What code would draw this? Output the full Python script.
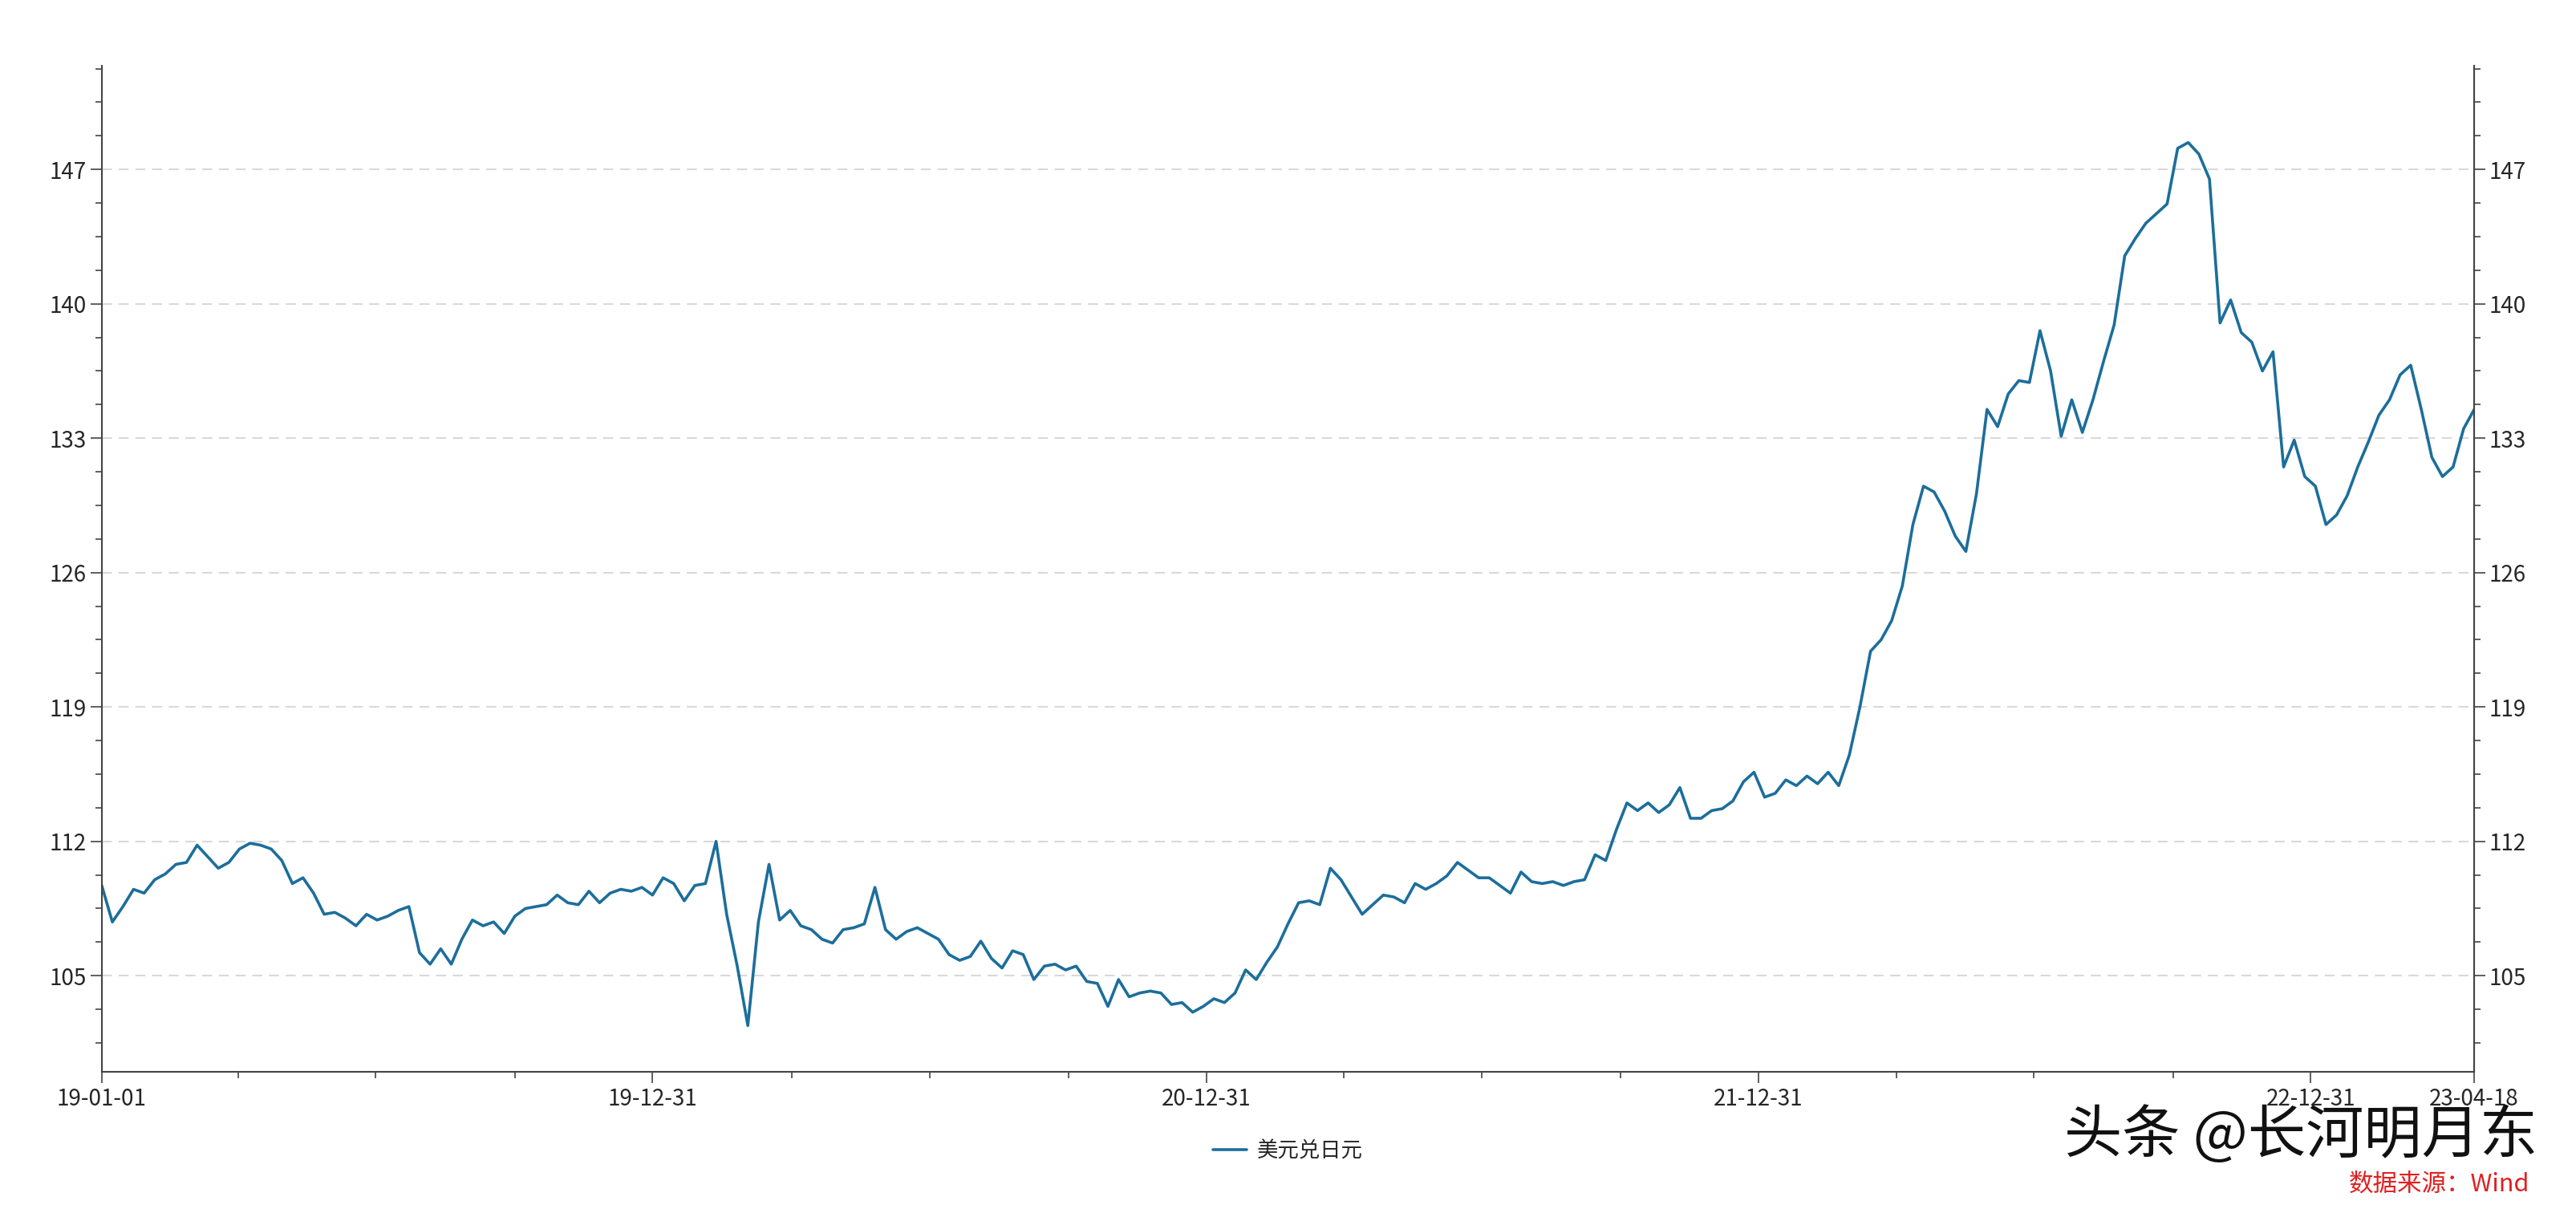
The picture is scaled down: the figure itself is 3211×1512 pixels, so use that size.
import numpy as np, pandas as pd, matplotlib
matplotlib.use("Agg")
import matplotlib.pyplot as plt, seaborn as sns
import matplotlib.dates as mdates
from matplotlib.ticker import FixedLocator, MultipleLocator

sns.set_theme(style="white")
plt.rcParams['font.family'] = ['Noto Sans CJK SC', 'DejaVu Sans']

v2019 = [109.7,107.8,108.6,109.5,109.3, 110.0,110.3,110.8,110.9, 111.8,111.2,110.6,110.9,
         111.6,111.9,111.8,111.6, 111.0,109.8,110.1,109.3, 108.2,108.3,108.0,107.6,
         108.2,107.9,108.1,108.4,108.6, 106.2,105.6,106.4,105.6, 106.9,107.9,107.6,107.8,
         107.2,108.1,108.5,108.6,108.7, 109.2,108.8,108.7,109.4, 108.8,109.3,109.5,109.4,109.6]
v2020 = [109.2,110.1,109.8,108.9, 109.7,109.8,112.0,108.2, 105.5,102.4,107.8,110.8,107.9,
         108.4,107.6,107.4,106.9, 106.7,107.4,107.5,107.7, 109.6,107.4,106.9,107.3,
         107.5,107.2,106.9,106.1,105.8, 106.0,106.8,105.9,105.4, 106.3,106.1,104.8,105.5,
         105.6,105.3,105.5,104.7,104.6, 103.4,104.8,103.9,104.1, 104.2,104.1,103.5,103.6,103.1]
v2021 = [103.4,103.8,103.6,104.1, 105.3,104.8,105.7,106.5, 107.7,108.8,108.9,108.7,110.6,
         110.0,109.1,108.2,108.7, 109.2,109.1,108.8,109.8, 109.5,109.8,110.2,110.9,
         110.5,110.1,110.1,109.7, 109.3,110.4,109.9,109.8,109.9, 109.7,109.9,110.0,111.3,
         111.0,112.6,114.0,113.6, 114.0,113.5,113.9,114.8,113.2, 113.2,113.6,113.7,114.1,115.1]
v2022 = [115.6,114.3,114.5,115.2, 114.9,115.4,115.0,115.6, 114.9,116.5,119.0,121.9,122.5,
         123.5,125.3,128.5,130.5, 130.2,129.2,127.9,127.1,130.1, 134.5,133.6,135.3,136.0,
         135.9,138.6,136.5,133.1, 135.0,133.3,135.0,137.0,138.9, 142.5,143.4,144.2,144.7,
         145.2,148.1,148.4,147.8, 146.5,139.0,140.2,138.5,138.0, 136.5,137.5,131.5,132.9]
v2023 = [131.0,130.5,128.5,129.0,130.0,131.5,132.8,134.2,135.0,136.3,136.8,134.5,132.0,
         131.0,131.5,133.5,134.5]
values = v2019 + v2020 + v2021 + v2022 + v2023
dates = pd.date_range("2019-01-01", periods=len(values), freq="7D")
df = pd.DataFrame({"date": dates, "美元兑日元": values})

tick_dates = ["2019-01-01","2019-12-31","2020-12-31","2021-12-31","2022-12-31","2023-04-18"]
tick_labels = ["19-01-01","19-12-31","20-12-31","21-12-31","22-12-31","23-04-18"]
yticks = [105,112,119,126,133,140,147]

fig = plt.figure(figsize=(32.11,15.12), dpi=100)
ax = fig.add_axes([0.0395,0.1165,0.921,0.8293])
color = "#1c6e9b"
sns.lineplot(data=df, x="date", y="美元兑日元", ax=ax, color=color, lw=2.6, label="美元兑日元")
ax.set_xlim(pd.Timestamp("2019-01-01"), pd.Timestamp("2023-04-18"))
ax.set_ylim(100, 152.4)
ax.set_xlabel(""); ax.set_ylabel("")
ax.set_xticks(pd.to_datetime(tick_dates))
ax.set_xticklabels(tick_labels, fontsize=20)
minor = [pd.Timestamp(f"{y}-{m:02d}-01") for y in range(2019,2024) for m in (4,7,10)]
minor = [d for d in minor if d < pd.Timestamp("2023-04-01")]
ax.xaxis.set_minor_locator(FixedLocator(mdates.date2num(minor)))
ax.set_yticks(yticks)
ax.yaxis.set_minor_locator(MultipleLocator(1.75))
ax.tick_params(axis="both", which="major", labelsize=20, length=10, width=1.2, color="#444444", direction="out", left=True, bottom=True)
ax.tick_params(axis="both", which="minor", length=6, width=1.2, color="#444444", direction="out", left=True, bottom=True)
ax.grid(axis="y", ls=(0,(6,4)), color="#d9d9d9", lw=1.5)
for s in ["left","right","bottom"]:
    ax.spines[s].set_color("#444444"); ax.spines[s].set_linewidth(1.5)
ax.spines["top"].set_visible(False)
ax2 = ax.twinx()
ax2.set_ylim(ax.get_ylim()); ax2.set_yticks(yticks)
ax2.yaxis.set_minor_locator(MultipleLocator(1.75))
ax2.tick_params(axis="y", which="major", labelsize=20, length=10, width=1.2, color="#444444", right=True)
ax2.tick_params(axis="y", which="minor", length=6, width=1.2, color="#444444", right=True)
for s in ["top","left","bottom"]:
    ax2.spines[s].set_visible(False)
ax2.spines["right"].set_color("#444444"); ax2.spines["right"].set_linewidth(1.5)
ax.get_legend().remove()
fig.legend(*ax.get_legend_handles_labels(), loc="center", bbox_to_anchor=(0.5,0.051),
           frameon=False, fontsize=19, handlelength=1.6, handletextpad=0.5)
fig.text(0.985, 0.063, "头条 @长河明月东", fontsize=52, ha="right", va="center", color="#111111")
fig.text(0.982, 0.024, "数据来源：Wind", fontsize=22, ha="right", va="center", color="#e02020")
fig.savefig("out.png", dpi=100)
